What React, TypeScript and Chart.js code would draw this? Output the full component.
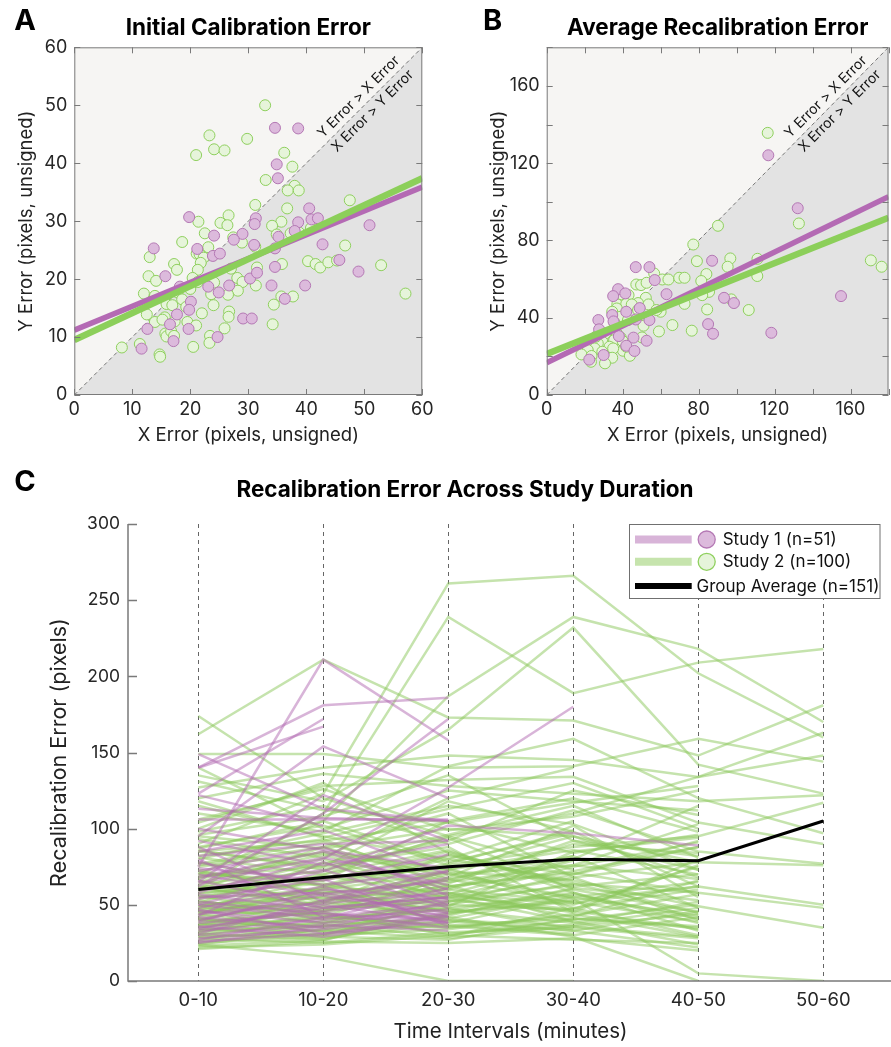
import React, { useEffect, useRef } from 'react';
import { Chart, registerables } from 'chart.js';
Chart.register(...registerables);

const FONT = 'Inter, "Noto Sans", "DejaVu Sans", sans-serif';

// ---------- Panel A data: initial calibration error (x, y) ----------
const study1Initial: [number, number][] = [
  [34.6,46.1],[38.6,46.0],[34.9,39.8],[35.1,37.4],[19.8,30.7],[40.5,32.2],[40.9,30.3],[42.0,30.5],
  [38.6,29.8],[31.3,30.5],[31.1,29.5],[50.9,29.3],[24.1,27.5],[29.0,27.8],[13.7,25.3],[21.2,25.2],
  [23.9,24.0],[25.1,24.4],[31.0,25.9],[42.8,26.0],[34.6,25.3],[35.2,27.3],[45.7,23.3],[34.6,22.1],
  [49.0,21.3],[15.7,20.5],[30.3,20.1],[31.5,21.1],[23.1,18.7],[26.7,18.9],[34.0,18.9],[39.8,18.9],
  [18.2,18.7],[20.1,16.1],[19.8,14.7],[24.9,17.7],[36.3,16.6],[17.7,13.9],[12.6,11.4],[19.7,11.4],
  [29.1,13.2],[30.6,13.2],[17.1,9.3],[24.7,10.0],[11.6,8.0],[38.0,28.3],[16.5,12.2],[27.5,26.8],
];
const study2Initial: [number, number][] = [
  [32.9,50.0],[23.3,44.8],[29.8,44.2],[24.1,42.4],[25.9,42.2],[21.0,41.4],[36.2,41.8],[37.6,39.4],
  [33.0,37.1],[38.0,36.1],[36.8,35.3],[38.7,35.3],[47.5,33.6],[31.2,32.8],[36.7,32.2],[26.6,31.0],
  [21.4,29.9],[25.2,29.7],[26.4,29.3],[35.7,29.9],[34.1,29.2],[22.5,27.9],[27.4,27.2],[37.3,27.9],
  [34.9,27.7],[18.6,26.4],[28.9,26.3],[31.2,25.6],[46.7,25.8],[23.1,25.5],[13.0,23.8],[21.1,24.4],
  [21.6,24.3],[22.3,23.7],[40.3,23.1],[41.6,22.6],[42.4,22.0],[43.8,22.9],[45.3,23.2],[52.9,22.4],
  [35.8,22.6],[17.2,22.6],[17.7,21.6],[21.8,22.8],[21.3,21.6],[31.5,22.0],[27.0,21.8],[12.8,20.5],
  [14.1,19.7],[20.4,20.2],[28.1,20.2],[29.0,19.5],[21.3,19.5],[24.1,19.4],[20.0,18.3],[31.3,18.9],
  [28.2,18.0],[23.6,17.4],[26.5,17.3],[12.0,17.5],[13.9,17.1],[17.8,17.7],[18.6,16.5],[35.7,17.0],
  [37.7,17.0],[57.1,17.5],[15.9,15.7],[16.9,15.5],[19.3,15.2],[24.0,15.5],[34.4,15.6],[12.5,13.9],
  [22.0,14.1],[26.7,14.4],[26.6,13.5],[15.6,13.4],[13.9,12.6],[15.2,13.0],[17.3,12.7],[19.5,12.6],
  [21.0,12.0],[34.2,12.2],[25.9,11.5],[15.7,10.6],[15.9,10.1],[16.7,11.0],[17.2,10.2],[23.4,10.2],
  [11.3,8.8],[23.3,9.0],[8.2,8.2],[20.5,8.3],[14.7,7.0],[14.8,6.6],[40.8,28.8],[38.8,28.0],
];
// regression fits: y at x = 0 and at x = axis max
const study1InitialFit = [11.2, 35.9];
const study2InitialFit = [9.5, 37.4];

// ---------- Panel B data: average recalibration error ----------
const study1Recal: [number, number][] = [
  [116.7,124.1],[132.2,96.7],[87.1,69.5],[46.9,66.2],[54.1,66.2],[56.9,59.5],[37.6,54.8],[63.1,52.2],
  [35.0,51.2],[93.4,50.3],[155.0,51.2],[98.6,47.6],[41.9,43.1],[34.5,41.4],[27.2,38.8],[54.1,38.8],
  [35.2,38.1],[27.6,34.0],[85.0,36.7],[87.6,31.7],[118.3,32.2],[45.7,29.7],[52.6,28.1],[41.9,25.5],
  [46.2,22.8],[30.0,20.7],[22.4,18.3],[41.4,52.6],[46.9,39.1],[49.0,45.0],[38.0,30.5],
];
const study2Recal: [number, number][] = [
  [116.4,135.7],[132.8,88.8],[90.2,87.6],[77.2,77.9],[79.1,69.3],[96.7,70.7],[95.3,66.4],[170.7,69.7],
  [176.4,66.4],[111.0,70.5],[110.9,61.6],[56.6,62.9],[60.9,59.8],[64.1,59.8],[69.8,60.7],[72.6,60.7],
  [84.1,62.6],[81.4,59.0],[47.2,57.2],[49.7,56.9],[52.6,58.1],[85.5,53.4],[81.9,51.7],[39.3,52.1],
  [43.1,51.7],[52.2,50.3],[97.2,49.5],[72.6,47.2],[48.1,47.6],[53.6,46.9],[37.2,46.9],[41.9,47.2],
  [44.8,46.9],[36.9,44.8],[48.1,44.0],[34.5,43.1],[84.5,44.3],[106.4,44.0],[60.0,43.1],[57.8,44.0],
  [40.9,40.5],[38.8,40.5],[42.8,38.8],[35.7,37.4],[66.2,36.2],[51.0,35.9],[59.1,32.9],[76.4,33.3],
  [30.9,31.9],[36.9,31.9],[39.0,29.7],[35.5,28.4],[50.2,29.8],[29.3,27.6],[26.9,26.7],[33.1,25.0],
  [40.0,27.9],[25.3,24.1],[40.2,22.9],[21.6,23.3],[29.3,22.4],[35.0,24.1],[18.3,21.0],[34.5,19.3],
  [43.8,20.3],[23.6,20.2],[23.3,17.2],[30.7,16.4],[25.9,30.2],[41.9,25.0],
];
const study1RecalFit = [16.7, 102.7];
const study2RecalFit = [21.2, 91.8];

// ---------- Panel C data ----------
const intervals = ['0-10', '10-20', '20-30', '30-40', '40-50', '50-60'];
const groupAverage = [60, 68, 75, 80, 79, 105];
const study1Lines: (number | null)[][] = [
  [75,211,158],[140,181,186],[140,167],[123,172],[149,113,105],[95,154,120],[62,110,172],
  [58,80,127,180],[50,72,102,97,89],[113,107,105],[106,106,106],[122,102],[82,90,92],[78,63,72],
  [68,85,60],[66,48,55],[60,73,48],[55,58,42],[52,44,40],[48,62,38],[46,38,45],[44,51,58],
  [42,35,52],[40,57,66],[38,45,35],[36,29,42],[35,48,55],[33,40,47],[31,53,72],[30,37,33],
  [28,34,44],[27,42],[26,31,39],[25,36],[92,76,90],[88,52,68],[85,99,70],[80,42,50],[74,66,83],
  [72,88,56],[70,56,45],[64,81,63],[57,46,53],[54,67,36],[50,41,61],[47,31,43],[43,78,50],
  [39,60,54],[34,50,38],[65,122,92],[100,86,74],
];
const study2Lines: (number | null)[][] = [
  [90,123,261,266,202,160],[60,110,239,189,209,218],[70,105,187,239,218,170],[162,211,173,171,148,181],
  [174,120,95,110,134,163],[149,149,140,141,159,144],[135,118,165,232,142,123],[127,140,148,145,134,148],
  [120,136,128,123,118,122],[110,98,141,159,120,97],[104,128,132,134,104,90],[98,115,90,112,85,77],
  [95,87,100,95,78,76],[24,16,0,0,null,null],[88,102,76,88,95,117],[85,75,118,98,62,50],
  [82,93,62,71,58,48],[78,62,80,66,49,35],[75,84,70,54,5,0],[72,58,66,90,84,null],
  [70,66,105,120,98,null],[68,80,58,42,66,null],[66,52,73,86,70,null],[64,72,94,60,45,null],
  [62,48,55,75,91,null],[60,88,110,68,40,null],[58,64,50,47,76,null],[56,42,68,102,55,null],
  [55,70,86,58,38,null],[54,60,45,53,62,null],[52,46,61,82,48,null],[51,77,96,115,81,null],
  [50,55,40,36,44,null],[49,38,52,70,92,null],[48,67,74,48,30,null],[47,51,83,64,58,null],
  [46,43,36,41,35,null],[45,58,64,92,73,null],[44,35,48,57,41,null],[43,62,55,39,24,null],
  [42,49,70,76,67,null],[41,32,43,61,53,null],[40,56,39,33,46,null],[39,45,58,50,75,null],
  [38,30,34,44,29,null],[37,53,62,72,88,null],[36,41,47,38,52,null],[35,28,38,55,43,null],
  [34,47,53,46,34,null],[33,36,42,29,0,null],[32,44,31,37,48,null],[31,27,45,52,39,null],
  [30,39,35,43,57,null],[29,33,50,64,45,null],[28,25,32,35,28,null],[27,37,29,48,60,null],
  [26,31,40,33,22,null],[25,29,27,41,36,null],[24,34,36,30,42,null],[23,27,44,58,33,null],
  [22,24,30,40,50,null],[21,26,25,28,20,null],[115,95,80,105,null,null],[100,130,84,61,null,null],
  [93,81,120,140,null,null],[87,105,78,97,null,null],[81,70,95,73,null,null],[77,91,67,82,null,null],
  [73,57,46,60,null,null],[69,75,88,45,null,null],[65,83,60,52,null,null],[61,50,72,66,null,null],
  [57,69,57,79,null,null],[53,40,48,34,null,null],[49,61,77,99,null,null],[45,52,41,56,null,null],
  [41,36,56,47,null,null],[37,48,63,39,null,null],[33,42,37,31,null,null],[29,30,52,63,null,null],
  [140,100,125,118,112,null],[131,112,104,84,96,null],[118,94,113,130,100,null],[106,126,99,108,125,null],
  [96,108,135,92,82,null],[86,73,92,125,109,null],[80,97,115,103,73,null],[76,88,65,76,103,null],
  [71,63,82,70,88,null],[67,85,73,95,68,null],[63,54,60,80,115,null],[59,78,54,68,78,null],
  [55,66,85,62,70,null],[85,92,104,117,128,null],[50,45,30,27,25,null],[47,60,71,55,65,null],
  [44,58,49,85,94,null],[40,33,28,36,29,null],[36,46,67,51,62,null],[31,38,57,45,80,null],
];

// ---------- colours ----------
const PURPLE_FILL = '#dcbadc';
const PURPLE_EDGE = '#b478b4';
const PURPLE_FIT = '#b46ab4';
const GREEN_FILL = '#e6f4da';
const GREEN_EDGE = '#8fd05e';
const GREEN_FIT = '#8ccf5a';
const PURPLE_LINE = 'rgba(178,105,178,0.5)';
const GREEN_LINE = 'rgba(140,200,92,0.5)';
const AXIS_GRAY = '#7a7a7a';
const TICK_TEXT = '#262626';

function drawText(ctx: any, text: string, x: number, y: number, font: string, opts: any = {}) {
  ctx.save();
  ctx.font = font;
  ctx.fillStyle = opts.color || '#000';
  ctx.textAlign = opts.align || 'center';
  ctx.textBaseline = opts.baseline || 'middle';
  ctx.translate(x, y);
  if (opts.rot) ctx.rotate(opts.rot);
  ctx.fillText(text, 0, 0);
  ctx.restore();
}

type ScatterSpec = {
  s1: [number, number][]; s2: [number, number][];
  fit1: number[]; fit2: number[];
  max: number; labelTicks: number[]; minorStep: number;
  letter: string; letterX: number; title: string;
  width: number; plotLeft: number; plotRight: number;
};

function scatterConfig(p: ScatterSpec): any {
  const pts = (arr: [number, number][]) => arr.map(([x, y]) => ({ x, y }));
  const decor = {
    id: 'decor',
    beforeDatasetsDraw(chart: any) {
      const { ctx, chartArea: a, scales } = chart;
      const x0 = scales.x.getPixelForValue(0), y0 = scales.y.getPixelForValue(0);
      const x1 = scales.x.getPixelForValue(p.max), y1 = scales.y.getPixelForValue(p.max);
      ctx.save();
      ctx.beginPath(); ctx.rect(a.left, a.top, a.right - a.left, a.bottom - a.top); ctx.clip();
      ctx.fillStyle = '#f6f5f3';
      ctx.fillRect(a.left, a.top, a.right - a.left, a.bottom - a.top);
      ctx.fillStyle = '#e3e3e3';
      ctx.beginPath(); ctx.moveTo(x0, y0); ctx.lineTo(x1, y1); ctx.lineTo(x1, y0); ctx.closePath(); ctx.fill();
      ctx.strokeStyle = '#555'; ctx.lineWidth = 0.8; ctx.setLineDash([4, 3]);
      ctx.beginPath(); ctx.moveTo(x0, y0); ctx.lineTo(x1, y1); ctx.stroke();
      ctx.setLineDash([]);
      const f = 0.837;
      const cx = x0 + f * (x1 - x0), cy = y0 + f * (y1 - y0);
      const off = 7;
      drawText(ctx, 'Y Error > X Error', cx - off, cy - off, `14px ${FONT}`, { color: '#111', rot: -Math.PI / 4 });
      drawText(ctx, 'X Error > Y Error', cx + off, cy + off, `14px ${FONT}`, { color: '#111', rot: -Math.PI / 4 });
      ctx.restore();
    },
    afterDraw(chart: any) {
      const { ctx, chartArea: a, scales } = chart;
      ctx.save();
      ctx.strokeStyle = AXIS_GRAY; ctx.lineWidth = 1;
      ctx.strokeRect(a.left + 0.5, a.top + 0.5, a.right - a.left - 1, a.bottom - a.top - 1);
      ctx.beginPath();
      for (let v = 0; v <= p.max + 1e-6; v += p.minorStep) {
        const px = Math.round(scales.x.getPixelForValue(v)) + 0.5;
        ctx.moveTo(px, a.bottom); ctx.lineTo(px, a.bottom - 6);
        ctx.moveTo(px, a.top); ctx.lineTo(px, a.top + 6);
        const py = Math.round(scales.y.getPixelForValue(v)) + 0.5;
        ctx.moveTo(a.left, py); ctx.lineTo(a.left + 6, py);
        ctx.moveTo(a.right, py); ctx.lineTo(a.right - 6, py);
      }
      ctx.stroke();
      ctx.restore();
      const mid = (a.left + a.right) / 2;
      drawText(ctx, p.letter, p.letterX, 21, `bold 29px ${FONT}`);
      drawText(ctx, p.title, mid, 28.5, `bold 22.5px ${FONT}`);
      drawText(ctx, 'X Error (pixels, unsigned)', mid, 435, `18.5px ${FONT}`, { color: '#222' });
      drawText(ctx, 'Y Error (pixels, unsigned)', a.left - 48, (a.top + a.bottom) / 2, `18.5px ${FONT}`, { color: '#222', rot: -Math.PI / 2 });
    },
  };
  const axis = (isX: boolean) => ({
    type: 'linear', min: 0, max: p.max,
    afterBuildTicks: (s: any) => { s.ticks = p.labelTicks.map((v) => ({ value: v })); },
    afterFit: (s: any) => { if (isX) s.height = 450 - 395; else s.width = p.plotLeft; },
    grid: { display: false, drawTicks: false },
    border: { display: false },
    ticks: { font: { family: FONT, size: 18 }, color: TICK_TEXT, padding: isX ? 4 : 7, maxRotation: 0, autoSkip: false },
  });
  return {
    type: 'scatter',
    data: {
      datasets: [
        { type: 'line', data: [{ x: 0, y: p.fit2[0] }, { x: p.max, y: p.fit2[1] }], borderColor: GREEN_FIT, borderWidth: 6.5, pointRadius: 0, fill: false },
        { type: 'line', data: [{ x: 0, y: p.fit1[0] }, { x: p.max, y: p.fit1[1] }], borderColor: PURPLE_FIT, borderWidth: 5.5, pointRadius: 0, fill: false },
        { data: pts(p.s1), backgroundColor: PURPLE_FILL, borderColor: PURPLE_EDGE, borderWidth: 1, pointRadius: 5.5 },
        { data: pts(p.s2), backgroundColor: GREEN_FILL, borderColor: GREEN_EDGE, borderWidth: 1, pointRadius: 5.5 },
      ],
    },
    options: {
      responsive: false, animation: false, events: [],
      layout: { padding: { left: 0, top: 47.3, right: p.width - p.plotRight, bottom: 0 } },
      plugins: { legend: { display: false }, tooltip: { enabled: false }, title: { display: false } },
      scales: { x: axis(true), y: axis(false) },
    },
    plugins: [decor],
  };
}

function lineConfig(): any {
  const C_W = 894, C_H = 597, LEFT = 128, TOP = 74, BOTTOM = 531;
  const toData = (vals: (number | null)[]) =>
    vals.map((v, i) => (v == null ? null : { x: i, y: v })).filter((d) => d != null);
  const subj = (vals: (number | null)[], color: string) => ({
    data: toData(vals), borderColor: color, borderWidth: 2.5, pointRadius: 0, fill: false,
  });
  const decor = {
    id: 'decorC',
    beforeDatasetsDraw(chart: any) {
      const { ctx, chartArea: a, scales } = chart;
      ctx.save();
      ctx.strokeStyle = '#666'; ctx.lineWidth = 1; ctx.setLineDash([4, 4]);
      ctx.beginPath();
      intervals.forEach((_, i) => {
        const px = Math.round(scales.x.getPixelForValue(i)) + 0.5;
        ctx.moveTo(px, a.top); ctx.lineTo(px, a.bottom);
      });
      ctx.stroke();
      ctx.restore();
    },
    afterDraw(chart: any) {
      const { ctx, chartArea: a, scales } = chart;
      ctx.save();
      ctx.strokeStyle = AXIS_GRAY; ctx.lineWidth = 1.5;
      ctx.beginPath();
      ctx.moveTo(a.left, a.top); ctx.lineTo(a.left, a.bottom); ctx.lineTo(a.right, a.bottom);
      for (let v = 0; v <= 300; v += 50) {
        const py = Math.round(scales.y.getPixelForValue(v)) + 0.5;
        ctx.moveTo(a.left, py); ctx.lineTo(a.left + 9, py);
      }
      ctx.stroke();
      // legend
      const bx = 629.5, by = 74.5, bw = 250.5, bh = 74;
      ctx.fillStyle = '#fff'; ctx.fillRect(bx, by, bw, bh);
      ctx.strokeStyle = '#707070'; ctx.lineWidth = 1; ctx.strokeRect(bx, by, bw, bh);
      const rows = [
        { y: 89.5, line: '#d8b4d8', w: 8, fill: PURPLE_FILL, edge: PURPLE_EDGE, text: 'Study 1 (n=51)' },
        { y: 111.8, line: '#c6e4ad', w: 8, fill: GREEN_FILL, edge: GREEN_EDGE, text: 'Study 2 (n=100)' },
      ];
      rows.forEach((r) => {
        ctx.strokeStyle = r.line; ctx.lineWidth = r.w;
        ctx.beginPath(); ctx.moveTo(635, r.y); ctx.lineTo(691.7, r.y); ctx.stroke();
        ctx.beginPath(); ctx.arc(706.7, r.y, 8.5, 0, Math.PI * 2);
        ctx.fillStyle = r.fill; ctx.fill(); ctx.strokeStyle = r.edge; ctx.lineWidth = 1.3; ctx.stroke();
        drawText(ctx, r.text, 722.7, r.y + 0.5, `17px ${FONT}`, { align: 'left', color: '#111' });
      });
      ctx.strokeStyle = '#000'; ctx.lineWidth = 6;
      ctx.beginPath(); ctx.moveTo(635, 136); ctx.lineTo(691.7, 136); ctx.stroke();
      drawText(ctx, 'Group Average (n=151)', 696.5, 136.5, `17px ${FONT}`, { align: 'left', color: '#111' });
      ctx.restore();
      drawText(ctx, 'C', 25, 32, `bold 29px ${FONT}`);
      drawText(ctx, 'Recalibration Error Across Study Duration', 465, 40, `bold 22.5px ${FONT}`);
      drawText(ctx, 'Time Intervals (minutes)', 510.5, 582, `20.5px ${FONT}`, { color: '#222' });
      drawText(ctx, 'Recalibration Error (pixels)', 60, (a.top + a.bottom) / 2, `21.5px ${FONT}`, { color: '#222', rot: -Math.PI / 2 });
    },
  };
  return {
    type: 'line',
    data: {
      datasets: [
        { data: toData(groupAverage), borderColor: '#000', borderWidth: 3, pointRadius: 0, fill: false },
        ...study1Lines.map((v) => subj(v, PURPLE_LINE)),
        ...study2Lines.map((v) => subj(v, GREEN_LINE)),
      ],
    },
    options: {
      responsive: false, animation: false, events: [],
      layout: { padding: { left: 0, top: TOP, right: 0, bottom: 0 } },
      plugins: { legend: { display: false }, tooltip: { enabled: false }, title: { display: false } },
      scales: {
        x: {
          type: 'linear', min: -0.5624, max: (C_W - 198.3) / 125,
          afterBuildTicks: (s: any) => { s.ticks = intervals.map((_, i) => ({ value: i })); },
          afterFit: (s: any) => { s.height = C_H - BOTTOM; },
          grid: { display: false, drawTicks: false }, border: { display: false },
          ticks: { font: { family: FONT, size: 18.5 }, color: TICK_TEXT, padding: 8, maxRotation: 0, autoSkip: false,
            callback: (v: any) => intervals[Math.round(v)] ?? '' },
        },
        y: {
          type: 'linear', min: 0, max: 300,
          afterBuildTicks: (s: any) => { s.ticks = [0, 50, 100, 150, 200, 250, 300].map((v) => ({ value: v })); },
          afterFit: (s: any) => { s.width = LEFT; },
          grid: { display: false, drawTicks: false }, border: { display: false },
          ticks: { font: { family: FONT, size: 17.5 }, color: TICK_TEXT, padding: 8 },
        },
      },
    },
    plugins: [decor],
  };
}

function ChartCanvas({ config, width, height, left, top }: any) {
  const ref = useRef<HTMLCanvasElement | null>(null);
  useEffect(() => {
    if (!ref.current) return;
    const chart = new Chart(ref.current, config());
    return () => chart.destroy();
  }, []);
  return (
    <canvas ref={ref} width={width} height={height}
      style={{ position: 'absolute', left, top, width, height }} />
  );
}

export default function App() {
  const specA: ScatterSpec = {
    s1: study1Initial, s2: study2Initial, fit1: study1InitialFit, fit2: study2InitialFit,
    max: 60, labelTicks: [0, 10, 20, 30, 40, 50, 60], minorStep: 10,
    letter: 'A', letterX: 25, title: 'Initial Calibration Error',
    width: 445, plotLeft: 74.3, plotRight: 422.3,
  };
  const specB: ScatterSpec = {
    s1: study1Recal, s2: study2Recal, fit1: study1RecalFit, fit2: study2RecalFit,
    max: 180, labelTicks: [0, 40, 80, 120, 160], minorStep: 20,
    letter: 'B', letterX: 47.5, title: 'Average Recalibration Error',
    width: 450, plotLeft: 101.7, plotRight: 449.7,
  };
  return (
    <div style={{ position: 'absolute', left: 0, top: 0, width: 891, height: 1047, overflow: 'hidden', background: '#fff' }}>
      <ChartCanvas config={() => scatterConfig(specA)} width={445} height={450} left={0} top={0} />
      <ChartCanvas config={() => scatterConfig(specB)} width={450} height={450} left={445} top={0} />
      <ChartCanvas config={lineConfig} width={894} height={597} left={0} top={450} />
    </div>
  );
}
